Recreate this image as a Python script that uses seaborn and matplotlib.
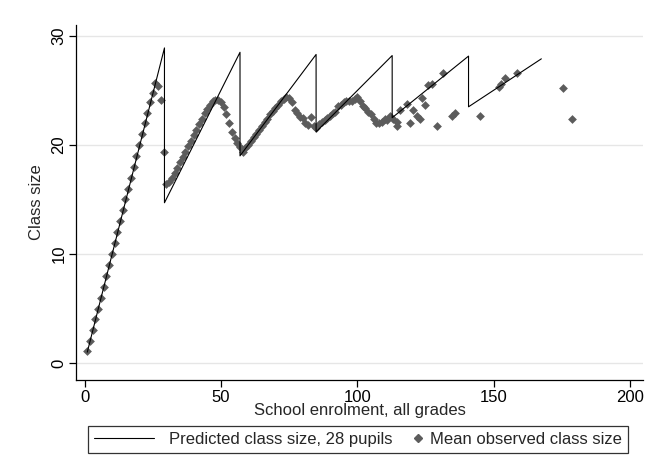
import matplotlib
matplotlib.use('Agg')
import matplotlib.pyplot as plt
import seaborn as sns
from matplotlib.lines import Line2D
from matplotlib.legend_handler import HandlerLine2DCompound

sns.set_style('ticks')
plt.rcParams['font.family'] = ['Liberation Sans Narrow', 'Liberation Sans', 'DejaVu Sans']

# Predicted class size (Maimonides-style rule, cap 28), vertices
pred_x = [1, 29.3, 29.3, 57.0, 57.0, 84.9, 84.9, 112.8, 112.8, 140.8, 140.8, 167.5]
pred_y = [1.0, 28.9, 14.7, 28.5, 19.0, 28.3, 21.2, 28.2, 22.5, 28.15, 23.5, 27.9]

# Mean observed class size by school enrolment
obs_x = [1, 2, 3, 4, 5, 6, 7, 8, 9, 10, 11, 12, 13, 14, 15, 16, 17, 18, 19, 20,
         21, 22, 23, 24, 25, 26, 27, 28, 29,
         30, 31, 32, 33, 34, 35, 36, 37, 38, 39, 40, 41, 42, 43, 44, 45, 46, 47, 48,
         49, 50, 51, 52, 53, 54, 55, 56, 57,
         58, 59, 60, 61, 62, 63, 64, 65, 66, 67, 68, 69, 70, 71, 72, 73, 74, 75, 76,
         77, 78, 79, 80, 81, 82, 83, 84,
         85, 86, 87, 88, 89, 90, 91, 92, 93, 94, 95, 96, 97, 98, 99, 100, 101, 102,
         103, 104, 105, 106, 107, 108, 109, 110, 111, 112, 113,
         114.6, 114.6, 115.7, 118.2, 119.4, 120.6, 121.8, 123, 123.7, 124.9, 126.1,
         127.3, 129.1, 131.6, 134.7, 135.9, 145, 151.8, 152.7, 154.2, 158.5,
         175.6, 178.7]
obs_y = [1.1, 2.0, 3.0, 4.0, 5.0, 6.0, 7.0, 8.0, 9.0, 10.0, 11.0, 12.0, 13.0, 14.0,
         15.0, 16.0, 17.0, 18.0, 19.0, 20.0, 21.0, 22.0, 22.9, 23.9, 24.8, 25.7,
         25.4, 24.1, 19.4,
         16.4, 16.6, 17.0, 17.4, 17.9, 18.4, 18.9, 19.4, 19.9, 20.4, 20.9, 21.4,
         21.9, 22.4, 22.9, 23.3, 23.7, 24.0, 24.1, 24.1, 23.9, 23.5, 22.8, 22.0,
         21.2, 20.6, 20.2, 19.8,
         19.4, 19.7, 20.0, 20.4, 20.7, 21.0, 21.4, 21.7, 22.1, 22.4, 22.8, 23.1,
         23.4, 23.7, 24.0, 24.2, 24.4, 24.3, 23.9, 23.2, 22.9, 22.6, 22.5, 22.0,
         21.8, 22.6, 21.7,
         21.6, 21.9, 22.1, 22.3, 22.5, 22.7, 22.9, 23.0, 23.6, 23.7, 23.9, 24.0,
         24.0, 24.0, 24.2, 24.4, 24.0, 23.6, 23.4, 23.0, 22.8, 22.4, 22.0, 22.0,
         22.1, 22.4, 22.3, 22.7, 22.4,
         22.1, 21.7, 23.2, 23.8, 22.0, 23.2, 22.7, 22.4, 24.3, 23.7, 25.5,
         25.6, 21.7, 26.6, 22.7, 22.9, 22.7, 25.3, 25.6, 26.1, 26.6,
         25.2, 22.4]

dot_color = '#5c5c5c'


# legend marker sits at the right end of its handle box, next to its text
class RightMarker(HandlerLine2DCompound):
    def get_xdata(self, legend, xdescent, ydescent, width, height, fontsize):
        xdata = [-xdescent, -xdescent + width]
        return xdata, [-xdescent + width + 2]


fig = plt.figure(figsize=(6.45, 4.55), dpi=100)
ax = fig.add_axes([0.118, 0.165, 0.879, 0.78])

sns.lineplot(x=pred_x, y=pred_y, estimator=None, sort=False, color='black',
             linewidth=0.8, ax=ax, zorder=3)
sns.scatterplot(x=obs_x, y=obs_y, marker='D', s=20, color=dot_color,
                edgecolor=dot_color, linewidth=0, ax=ax, zorder=2)

ax.set_xlim(-3.1, 204.8)
ax.set_ylim(-1.55, 31)
ax.set_xticks([0, 50, 100, 150, 200])
ax.set_yticks([0, 10, 20, 30])
ax.grid(axis='y', color='#e6e6e6', linewidth=1)
ax.set_axisbelow(True)
for side in ['top', 'right']:
    ax.spines[side].set_visible(False)
for side in ['left', 'bottom']:
    ax.spines[side].set_color('black')
    ax.spines[side].set_linewidth(0.9)
ax.tick_params(axis='both', length=5, width=0.9, color='black', labelsize=12,
               labelcolor='black', pad=2)
plt.setp(ax.get_yticklabels(), rotation=90, va='center')

ax.set_xlabel('School enrolment, all grades', fontsize=12, labelpad=-1)
ax.set_ylabel('Class size', fontsize=12, labelpad=5)

line_h = Line2D([0], [0], color='black', linewidth=0.8)
dot_h = Line2D([0], [0], marker='D', linestyle='none', color=dot_color, markersize=4.5)
leg = fig.legend([line_h, dot_h], ['Predicted class size, 28 pupils', 'Mean observed class size'],
                 loc='center', bbox_to_anchor=(358 / 645, 1 - 439.5 / 455), ncol=2,
                 frameon=True, fancybox=False, fontsize=12, handlelength=3.6,
                 columnspacing=-2.2, borderpad=0.35, handletextpad=0.9,
                 borderaxespad=0, handler_map={dot_h: RightMarker()})
leg.get_frame().set_edgecolor('black')
leg.get_frame().set_linewidth(0.9)

fig.savefig('out.png', dpi=100, facecolor='white')
